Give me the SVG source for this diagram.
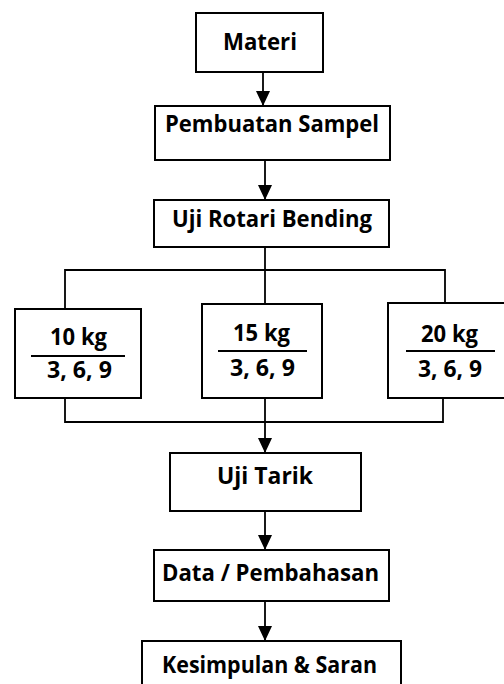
<svg xmlns="http://www.w3.org/2000/svg" width="504" height="684" viewBox="0 0 504 684">
<style>
.box{fill:#fff;stroke:#000;stroke-width:2}
.t{font-family:"Open Sans","Noto Sans","Liberation Sans",sans-serif;font-weight:700;font-size:23px;fill:#000;text-anchor:middle}
.c{fill:none;stroke:#000;stroke-width:1.8}
.div{stroke:#000;stroke-width:2}
</style>
<defs>
<marker id="ah" markerUnits="userSpaceOnUse" markerWidth="15" markerHeight="14" refX="15" refY="7" orient="auto">
<path d="M0,0 L15,7 L0,14 z" fill="#000"/>
</marker>
</defs>
<rect width="504" height="684" fill="#fff"/>
<g id="connectors">
<line class="c" x1="263" y1="72" x2="263" y2="106" marker-end="url(#ah)"/>
<line class="c" x1="265" y1="160" x2="265" y2="200" marker-end="url(#ah)"/>
<polyline class="c" points="265,247 265,304"/>
<polyline class="c" points="65,309 65,270 445,270 445,303"/>
<polyline class="c" points="65,398 65,422 443,422 443,398"/>
<line class="c" x1="265" y1="398" x2="265" y2="453" marker-end="url(#ah)"/>
<line class="c" x1="265" y1="511" x2="265" y2="550" marker-end="url(#ah)"/>
<line class="c" x1="265" y1="601" x2="265" y2="641" marker-end="url(#ah)"/>
</g>
<g id="materi">
<rect class="box" x="196" y="13" width="127" height="59"/>
<text class="t" x="260" y="50" textLength="74" lengthAdjust="spacingAndGlyphs">Materi</text>
</g>
<g id="pembuatan">
<rect class="box" x="155" y="106" width="235" height="54"/>
<text class="t" x="272" y="132" textLength="214" lengthAdjust="spacingAndGlyphs">Pembuatan Sampel</text>
</g>
<g id="rotari">
<rect class="box" x="154" y="200" width="235" height="47"/>
<text class="t" x="272" y="227" textLength="200" lengthAdjust="spacingAndGlyphs">Uji Rotari Bending</text>
</g>
<g id="kg10">
<rect class="box" x="15" y="309" width="126" height="89"/>
<text class="t" x="78.5" y="345" textLength="57" lengthAdjust="spacingAndGlyphs">10 kg</text>
<line class="div" x1="31" y1="356" x2="125" y2="356"/>
<text class="t" x="79.5" y="378" textLength="65" lengthAdjust="spacingAndGlyphs">3, 6, 9</text>
</g>
<g id="kg15">
<rect class="box" x="202" y="304" width="120" height="94"/>
<text class="t" x="261.5" y="341" textLength="57" lengthAdjust="spacingAndGlyphs">15 kg</text>
<line class="div" x1="218" y1="351" x2="307" y2="351"/>
<text class="t" x="262.5" y="376" textLength="65" lengthAdjust="spacingAndGlyphs">3, 6, 9</text>
</g>
<g id="kg20">
<rect class="box" x="388" y="303" width="127" height="95"/>
<text class="t" x="449.5" y="342" textLength="57" lengthAdjust="spacingAndGlyphs">20 kg</text>
<line class="div" x1="406" y1="351" x2="495" y2="351"/>
<text class="t" x="450" y="377" textLength="64" lengthAdjust="spacingAndGlyphs">3, 6, 9</text>
</g>
<g id="tarik">
<rect class="box" x="170" y="453" width="191" height="58"/>
<text class="t" x="265" y="484" textLength="96" lengthAdjust="spacingAndGlyphs">Uji Tarik</text>
</g>
<g id="data">
<rect class="box" x="154" y="550" width="235" height="51"/>
<text class="t" x="270.5" y="581" textLength="217" lengthAdjust="spacingAndGlyphs">Data / Pembahasan</text>
</g>
<g id="kesimpulan">
<rect class="box" x="142" y="641" width="259" height="60"/>
<text class="t" x="269.5" y="673" textLength="215" lengthAdjust="spacingAndGlyphs">Kesimpulan &amp; Saran</text>
</g>
</svg>
